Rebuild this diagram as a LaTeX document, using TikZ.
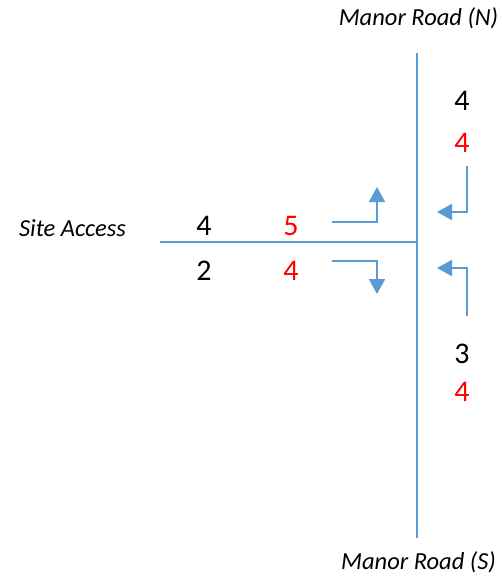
\documentclass[tikz,border=0pt]{standalone}
\usepackage{fontspec}
\setmainfont{Carlito}
\usetikzlibrary{arrows.meta}
\definecolor{roadblue}{RGB}{91,155,213}
\definecolor{flowred}{RGB}{255,0,0}
\tikzset{
  road/.style={draw=roadblue, line width=2pt},
  flow/.style={draw=roadblue, line width=2pt, -{Triangle[width=16pt,length=15pt]}},
  lbl/.style={font=\fontsize{24.5}{28}\selectfont\itshape, inner sep=0pt},
  num/.style={font=\fontsize{30}{34}\selectfont, inner sep=0pt},
  numr/.style={num, text=flowred}
}
\begin{document}
\begin{tikzpicture}[x=1pt,y=-1pt]
\useasboundingbox (0,0) rectangle (501,576);
% roads
\coordinate (nTop) at (417,53);
\coordinate (sBot) at (417,538);
\coordinate (jW) at (160,242);
\coordinate (jE) at (418,242);
\path[road] (nTop) -- (sBot);
\path[road] (jW) -- (jE);
% labels
\node[lbl] (mrn) at (418.5,18) {Manor Road (N)};
\node[lbl] (mrs) at (418.5,562) {Manor Road (S)};
\node[lbl] (sa) at (72.5,228) {Site Access};
% numbers
\node[num] (a1) at (204,226) {4};
\node[numr] (a2) at (291,226) {5};
\node[num] (b1) at (204,271) {2};
\node[numr] (b2) at (291,271) {4};
\node[num] (c1) at (462,101) {4};
\node[numr] (c2) at (462,143) {4};
\node[num] (d1) at (462,354) {3};
\node[numr] (d2) at (462,392) {4};
% turning arrows
\coordinate (t1s) at (332,222); \coordinate (t1c) at (377,222); \coordinate (t1e) at (377,187);
\coordinate (t2s) at (332,261); \coordinate (t2c) at (377,261); \coordinate (t2e) at (377,294);
\coordinate (t3s) at (467,166); \coordinate (t3c) at (467,212); \coordinate (t3e) at (437,212);
\coordinate (t4s) at (467,316); \coordinate (t4c) at (467,268); \coordinate (t4e) at (437,268);
\path[flow] (t1s) -- (t1c) -- (t1e);
\path[flow] (t2s) -- (t2c) -- (t2e);
\path[flow] (t3s) -- (t3c) -- (t3e);
\path[flow] (t4s) -- (t4c) -- (t4e);
\end{tikzpicture}
\end{document}
